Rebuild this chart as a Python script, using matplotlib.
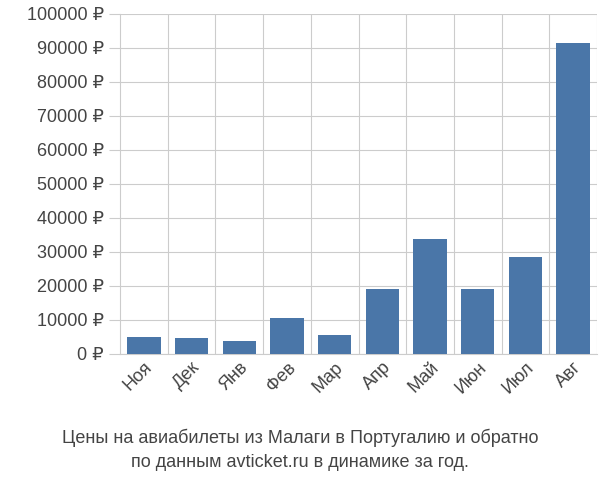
import matplotlib
matplotlib.use("Agg")
import matplotlib.pyplot as plt

plt.rcParams['font.family'] = ['Liberation Sans', 'DejaVu Sans']

months = ['Ноя', 'Дек', 'Янв', 'Фев', 'Мар', 'Апр', 'Май', 'Июн', 'Июл', 'Авг']
prices = [5000, 4700, 3800, 10700, 5700, 19200, 33700, 19200, 28500, 91500]
yticks = list(range(0, 100001, 10000))

fig = plt.figure(figsize=(6, 5), dpi=100)
ax = fig.add_axes([0.2, 0.292, 0.795, 0.68])
ax.bar(range(len(months)), prices, width=0.7, color='#4a76a8', zorder=3)
ax.set_xlim(-0.5, len(months) - 0.5)
ax.set_ylim(0, 100000)
ax.set_yticks(yticks)
ax.set_yticklabels([f'{v} ₽' for v in yticks], fontsize=13, color='#444444')
ax.set_xticks(range(len(months)))
ax.set_xticklabels(months, rotation=45, ha='right', rotation_mode='anchor',
                   fontsize=13, color='#444444')
ax.set_xticks([i + 0.5 for i in range(len(months))], minor=True)
ax.grid(True, which='minor', axis='x', color='#cccccc', lw=0.8)
ax.grid(True, which='major', axis='y', color='#cccccc', lw=0.8)
ax.tick_params(axis='x', which='both', length=0)
ax.tick_params(axis='y', length=8, color='#cccccc')
for s in ['top', 'right']:
    ax.spines[s].set_visible(False)
ax.spines['left'].set_color('#cccccc')
ax.spines['bottom'].set_color('#cccccc')

fig.text(0.5, 0.1, 'Цены на авиабилеты из Малаги в Португалию и обратно\nпо данным avticket.ru в динамике за год.',
         ha='center', va='center', fontsize=13, color='#444444', linespacing=1.5)
fig.savefig('out.png')
